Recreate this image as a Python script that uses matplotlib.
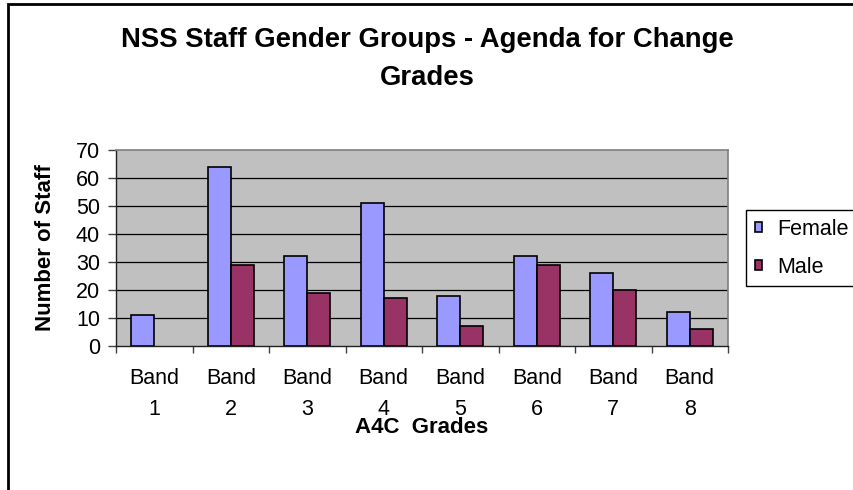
import numpy as np
import matplotlib
matplotlib.use('Agg')
import matplotlib.pyplot as plt
from matplotlib.patches import Patch, Rectangle

plt.rcParams['font.family'] = ['Liberation Sans', 'DejaVu Sans']

# --- data
bands = ['Band\n1', 'Band\n2', 'Band\n3', 'Band\n4', 'Band\n5', 'Band\n6', 'Band\n7', 'Band\n8']
female = [11, 64, 32, 51, 18, 32, 26, 12]
male = [0, 29, 19, 17, 7, 29, 20, 6]
series_names = ['Female', 'Male']
yticks = [0, 10, 20, 30, 40, 50, 60, 70]

c_female = '#9999FF'
c_male = '#993366'

fs = 15.5

fig = plt.figure(figsize=(8.54, 4.90), dpi=100)
ax = fig.add_axes((116/854, 1 - 346/490, 612/854, 196/490))
ax.set_facecolor('#C0C0C0')

x = np.arange(len(bands))
w = 0.3
ax.bar(x - w/2, female, w, color=c_female, zorder=3, lw=1.2,
       edgecolor=['black' if v else 'none' for v in female])
ax.bar(x + w/2, male, w, color=c_male, zorder=3, lw=1.2,
       edgecolor=['black' if v else 'none' for v in male])

ax.set_xlim(-0.5, len(bands) - 0.5)
ax.set_ylim(0, 70)

# --- gridlines
for y in yticks[1:-1]:
    ax.axhline(y, color='black', lw=0.9, zorder=1)

# --- ticks: marks at category boundaries, labels at centres
ax.set_xticks(np.arange(len(bands) + 1) - 0.5)
ax.set_xticklabels([])
ax.set_xticks(x, minor=True)
ax.set_xticklabels(bands, minor=True, fontsize=fs, linespacing=1.6)
ax.tick_params(axis='x', which='major', direction='out', length=5, width=1, color='#404040')
ax.tick_params(axis='x', which='minor', length=0, pad=16)

ax.set_yticks(yticks)
ax.set_yticklabels([str(v) for v in yticks], fontsize=fs)
ax.tick_params(axis='y', direction='out', length=6, width=1, color='#404040', pad=5.5)

for s in ['left', 'bottom']:
    ax.spines[s].set_color('#202020')
    ax.spines[s].set_linewidth(1)
for s in ['top', 'right']:
    ax.spines[s].set_color('#808080')
    ax.spines[s].set_linewidth(1.2)

ax.set_ylabel('Number of Staff', fontsize=16, fontweight='bold')
ax.yaxis.label.set_va('center')
ax.yaxis.set_label_coords((46 - 116)/612, 0.5)
fig.text(422/854, 1 - 427/490, 'A4C  Grades', fontsize=16, fontweight='bold',
         ha='center', va='center')

# --- title
fig.text(427/854, 1 - 40/490, 'NSS Staff Gender Groups - Agenda for Change',
         fontsize=19.8, fontweight='bold', ha='center', va='center')
fig.text(427/854, 1 - 78/490, 'Grades',
         fontsize=19.8, fontweight='bold', ha='center', va='center')

# --- legend
handles = [Patch(facecolor=c_female, edgecolor='black', lw=1.2),
           Patch(facecolor=c_male, edgecolor='black', lw=1.2)]
leg = fig.legend(handles, series_names, loc='upper left',
                 bbox_to_anchor=(746/854, 1 - 210/490), fontsize=fs,
                 handlelength=0.33, handleheight=0.33, handletextpad=0.7,
                 labelspacing=0.8, borderpad=0.4, borderaxespad=0,
                 fancybox=False, framealpha=1)
leg.get_frame().set_edgecolor('black')
leg.get_frame().set_linewidth(1)

# --- outer chart border
fig.add_artist(Rectangle((8/854, -0.05), 1.2, 1.05 - 4/490, transform=fig.transFigure,
                         fill=False, edgecolor='black', lw=2))

fig.savefig('out.png', dpi=100)
